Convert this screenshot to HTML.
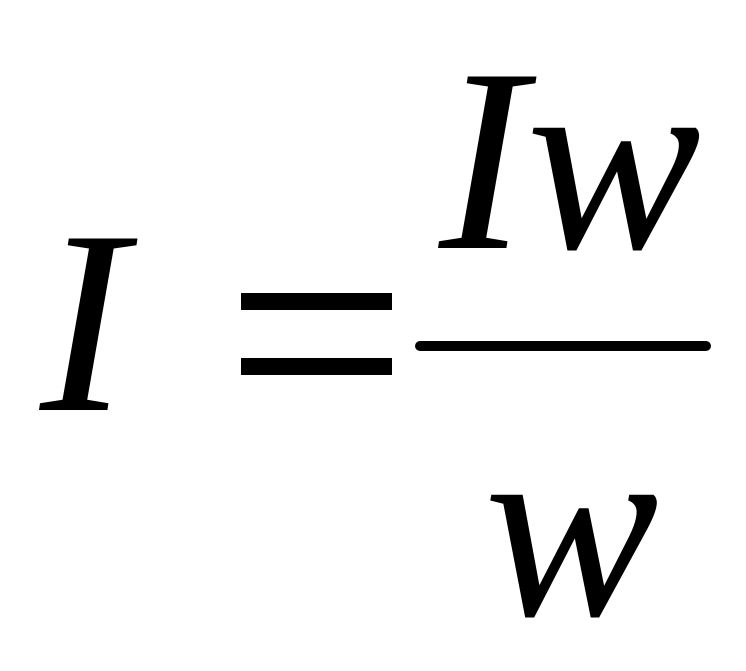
<!DOCTYPE html>
<html><head><meta charset="utf-8"><style>
html,body{margin:0;padding:0;background:#fff;width:746px;height:671px;overflow:hidden}
</style></head><body>
<svg width="746" height="671" viewBox="0 0 746 671" xmlns="http://www.w3.org/2000/svg">
<g font-family="Liberation Serif, serif" font-style="italic" font-size="262" fill="#000">
<text x="40" y="410">I</text>
<text x="439" y="248">I<tspan>w</tspan></text>
<text x="484" y="615">w</text>
</g>
<rect x="241" y="293" width="151" height="17" fill="#000"/>
<rect x="241" y="358" width="151" height="17" fill="#000"/>
<line x1="420" y1="346" x2="706" y2="346" stroke="#000" stroke-width="10" stroke-linecap="round"/>
</svg>
</body></html>
